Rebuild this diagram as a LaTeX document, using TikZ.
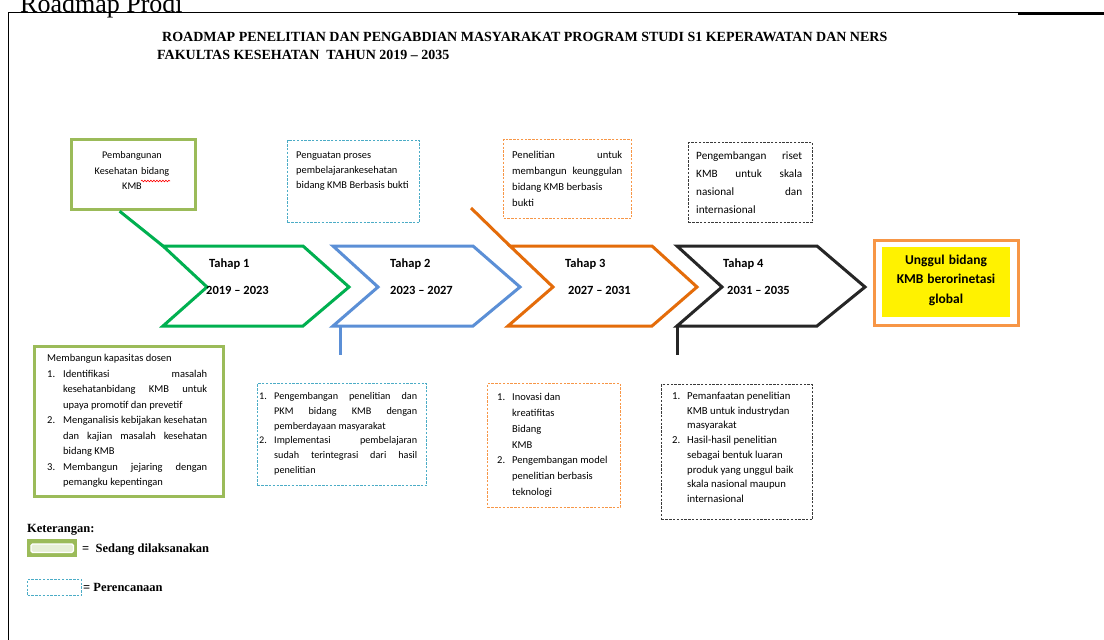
\documentclass[tikz,border=0pt]{standalone}
\usepackage{fontspec}
\setmainfont{Liberation Serif}
\newfontfamily\calfont[Ligatures=TeX]{Carlito}
\usetikzlibrary{calc,decorations.pathmorphing}
\definecolor{cgreen}{HTML}{00B050}
\definecolor{cblue}{HTML}{5B8FD6}
\definecolor{corange}{HTML}{E46C0A}
\definecolor{cblack}{HTML}{262626}
\definecolor{lgreen}{HTML}{9BBB59}
\definecolor{lgreenin}{HTML}{C3D69B}
\definecolor{dblue}{HTML}{4BACC6}
\definecolor{dorange}{HTML}{F79646}
\definecolor{dgray}{HTML}{3A3A3A}
\newlength{\indw}
\newlength{\bw}
\newcommand{\resetsp}{\spaceskip=0pt\xspaceskip=0pt\relax}
\newcommand{\stsp}{\spaceskip=\fontdimen2\font plus 1fil\relax}
\newcommand{\jline}[1]{\makebox[\bw][s]{\stsp #1}}
\newcommand{\numjust}[2]{\makebox[\indw][l]{#1}\makebox[\dimexpr\bw-\indw\relax][s]{\stsp #2}}
\newcommand{\numleft}[2]{\makebox[\indw][l]{#1}#2}
\newcommand{\contjust}[1]{\hspace*{\indw}\makebox[\dimexpr\bw-\indw\relax][s]{\stsp #1}}
\newcommand{\contleft}[1]{\hspace*{\indw}#1}
\begin{document}
\begin{tikzpicture}[x=1pt,y=-1pt,
  chev/.style={line width=3pt, line join=miter},
  conn/.style={line width=3pt},
  donebox/.style={draw=lgreen, line width=3.2pt, inner sep=0pt, anchor=north west},
  planbox/.style={draw=#1, line width=1pt, dash pattern=on 2.4pt off 1.4pt, inner sep=0pt, anchor=north west},
  body/.style={inner sep=0pt, anchor=base west, align=left},
  bsz/.style 2 args={font=\calfont\fontsize{#1}{#2}\selectfont},
  chevtxt/.style={inner sep=0pt, anchor=base west, font=\calfont\bfseries\fontsize{12.5}{15}\selectfont},
  titletxt/.style={inner sep=0pt, anchor=base west, font=\bfseries\fontsize{14}{16}\selectfont},
  legtxt/.style={inner sep=0pt, anchor=base west, font=\bfseries\fontsize{12.5}{15}\selectfont}
]
\clip (0,0) rectangle (1104,640);
\fill[white] (0,0) rectangle (1104,640);

% page frame and heading
\node[inner sep=0pt, anchor=base west, font=\fontsize{26}{30}\selectfont] (head) at (20,12) {Roadmap Prodi};
\coordinate (frTL) at (8.5,12.7);
\coordinate (frTR) at (1104,12.7);
\coordinate (frBL) at (8.5,640);
\coordinate (frK) at (1018,13.3);
\coordinate (frKR) at (1104,13.3);
\draw[line width=1.1pt] (frBL) -- (frTL) -- (frTR);
\draw[line width=3pt] (frK) -- (frKR);

% title
\node[titletxt] (title1) at (162,41.5) {ROADMAP PENELITIAN DAN PENGABDIAN MASYARAKAT PROGRAM STUDI S1 KEPERAWATAN DAN NERS};
\node[titletxt] (title2) at (157,59.5) {FAKULTAS KESEHATAN \ TAHUN 2019 – 2035};

% chevrons
\draw[chev, cgreen] (163,246) coordinate (c1a) -- (303,246) -- (349,287) -- (303,326) -- (163,326) coordinate (c1b) -- (207,287) -- cycle;
\draw[chev, cblue] (333,246) coordinate (c2a) -- (473,246) -- (520,287) -- (473,326) -- (333,326) coordinate (c2b) -- (378,287) -- cycle;
\draw[chev, corange] (510,246) coordinate (c3a) -- (652,246) -- (697,287) -- (652,326) -- (508,326) coordinate (c3b) -- (553,287) -- cycle;
\draw[chev, cblack] (677,246) coordinate (c4a) -- (817,246) -- (865,287) -- (817,326) -- (677,326) coordinate (c4b) -- (722,287) -- cycle;

\node[chevtxt] (t1) at (209,267) {Tahap 1};
\node[chevtxt] (y1) at (206,294) {2019 – 2023};
\node[chevtxt] (t2) at (390,267) {Tahap 2};
\node[chevtxt] (y2) at (390,294) {2023 – 2027};
\node[chevtxt] (t3) at (565,267) {Tahap 3};
\node[chevtxt] (y3) at (568,294) {2027 – 2031};
\node[chevtxt] (t4) at (723,267) {Tahap 4};
\node[chevtxt] (y4) at (727,294) {2031 – 2035};

% top boxes
\node[donebox, minimum width=124pt, minimum height=70pt] (bA) at (70,138) {};
\node[body, anchor=base, align=center, text width=116pt, bsz={10.2}{15.5}] (tA) at (132,158.5) {\resetsp Pembangunan\\Kesehatan bidang\\KMB};
\coordinate (sqA) at (141,181);
\coordinate (sqB) at (170,181);
\draw[red, line width=0.6pt, decorate, decoration={snake, amplitude=0.8pt, segment length=3pt}] (sqA) -- (sqB);

\node[planbox=dblue, minimum width=132pt, minimum height=82pt] (bB) at (287,140) {};
\node[body, text width=118pt, bsz={10.4}{15}] (tB) at (296,158.7) {\resetsp Penguatan proses\\pembelajarankesehatan\\bidang KMB Berbasis bukti};

\node[planbox=dorange, minimum width=128pt, minimum height=79pt] (bC) at (503,139) {};
\node[body, text width=112pt, bsz={10.6}{16}] (tC) at (512,158.7) {\resetsp\setlength{\bw}{110pt}\jline{Penelitian untuk}\\\jline{membangun keunggulan}\\bidang KMB berbasis\\bukti};

\node[planbox=dgray, line width=1.3pt, minimum width=124pt, minimum height=80pt] (bD) at (688,142) {};
\node[body, text width=108pt, bsz={11.2}{18.3}] (tD) at (696,159) {\resetsp\setlength{\bw}{106pt}\jline{Pengembangan riset}\\\jline{KMB untuk skala}\\\jline{nasional dan}\\internasional};

% connectors from top boxes
\draw[conn, cgreen] ($(bA.south west)!0.39!(bA.south east)$) -- (c1a);
\coordinate (oStart) at (471,208);
\draw[conn, corange] (oStart) -- (c3a);
\coordinate (c2v) at (340,326);
\coordinate (bEnd) at (340,355);
\draw[conn, cblue] (c2v) -- (bEnd);
\coordinate (kEnd) at (677,355);
\draw[conn, cblack] (c4b) -- (kEnd);

% final box
\node[draw=dorange, line width=2.5pt, fill=white, minimum width=144pt, minimum height=85pt, inner sep=0pt, anchor=north west] (zo) at (873,239) {};
\node[fill=yellow, minimum width=128pt, minimum height=70pt, inner sep=0pt, anchor=north west] (zi) at (882,247) {};
\node[body, anchor=base, align=center, text width=126pt, font=\calfont\bfseries\fontsize{13.5}{19.5}\selectfont] (tz) at (946,264) {\resetsp Unggul bidang\\KMB berorinetasi\\global};

% bottom boxes
\node[donebox, minimum width=189pt, minimum height=150pt] (bE) at (33,345) {};
\node[body, text width=162pt, bsz={10.5}{15.5}] (tE) at (47,361.5) {\resetsp\setlength{\indw}{16pt}\setlength{\bw}{160pt}Membangun kapasitas dosen\\
\numjust{1.}{Identifikasi masalah}\\
\contjust{kesehatanbidang KMB untuk}\\
\contleft{upaya promotif dan prevetif}\\
\numjust{2.}{Menganalisis kebijakan kesehatan}\\
\contjust{dan kajian masalah kesehatan}\\
\contleft{bidang KMB}\\
\numjust{3.}{Membangun jejaring dengan}\\
\contleft{pemangku kepentingan}};

\node[planbox=dblue, minimum width=169pt, minimum height=102pt] (bF) at (257,383) {};
\node[body, text width=160pt, bsz={10.2}{14.8}] (tF) at (259,399.5) {\resetsp\setlength{\indw}{15pt}\setlength{\bw}{158pt}\numjust{1.}{Pengembangan penelitian dan}\\
\contjust{PKM bidang KMB dengan}\\
\contleft{pemberdayaan masyarakat}\\
\numjust{2.}{Implementasi pembelajaran}\\
\contjust{sudah terintegrasi dari hasil}\\
\contleft{penelitian}};

\node[planbox=dorange, minimum width=133pt, minimum height=124pt] (bG) at (487,383) {};
\node[body, text width=118pt, bsz={10.5}{15.8}] (tG) at (497,400.7) {\resetsp\setlength{\indw}{15pt}\numleft{1.}{Inovasi dan}\\
\contleft{kreatifitas}\\
\contleft{Bidang}\\
\contleft{KMB}\\
\numleft{2.}{Pengembangan model}\\
\contleft{penelitian berbasis}\\
\contleft{teknologi}};

\node[planbox=dgray, line width=1.2pt, minimum width=151pt, minimum height=135pt] (bH) at (661,384) {};
\node[body, text width=138pt, bsz={10.7}{14.7}] (tH) at (672,399.5) {\resetsp\setlength{\indw}{15pt}\numleft{1.}{Pemanfaatan penelitian}\\
\contleft{KMB untuk industrydan}\\
\contleft{masyarakat}\\
\numleft{2.}{Hasil-hasil penelitian}\\
\contleft{sebagai bentuk luaran}\\
\contleft{produk yang unggul baik}\\
\contleft{skala nasional maupun}\\
\contleft{internasional}};

% legend
\node[legtxt] (ket) at (27,532) {Keterangan:};
\node[fill=lgreen, minimum width=50pt, minimum height=18pt, inner sep=0pt, anchor=north west] (legA) at (27,539) {};
\draw[white, line width=1.3pt, fill=lgreenin!40, rounded corners=1.5pt] ($(legA.north west)+(4,5)$) rectangle ($(legA.south east)+(-4,-5)$);
\node[legtxt] (legAt) at (82,552) {= \ Sedang dilaksanakan};
\node[planbox=dblue, minimum width=54pt, minimum height=16pt] (legB) at (27,579) {};
\node[legtxt] (legBt) at (83,591) {= Perencanaan};
\end{tikzpicture}
\end{document}
